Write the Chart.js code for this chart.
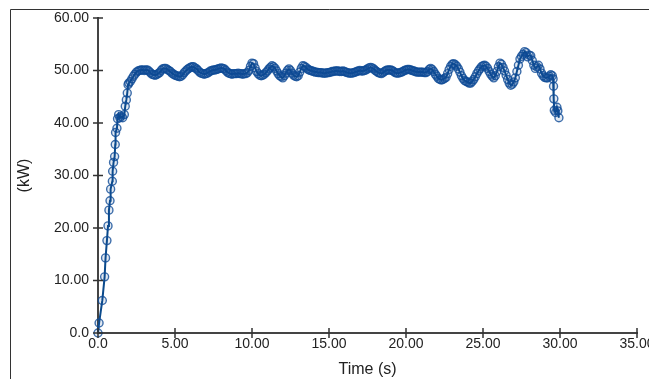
<!DOCTYPE html>
<html>
<head>
<meta charset="utf-8">
<script src="https://cdn.jsdelivr.net/npm/chart.js@4/dist/chart.umd.min.js"></script>
<style>
  html, body { margin: 0; padding: 0; background: #fff; }
  #wrap { width: 649px; height: 379px; }
</style>
</head>
<body>
<div id="wrap"><canvas id="powerChart" width="649" height="379"></canvas></div>
<script>
// time (s) of each sample
const timeS = [
  0, 0.07, 0.28, 0.43, 0.49, 0.58, 0.65, 0.71, 0.78, 0.82,
  0.93, 0.95, 1.01, 1.08, 1.12, 1.14, 1.23, 1.27, 1.34, 1.42,
  1.49, 1.6, 1.71, 1.77, 1.84, 1.9, 1.95,
  2.0, 2.1, 2.2, 2.3, 2.4, 2.5, 2.6, 2.7, 2.8, 2.9,
  3.0, 3.1, 3.2, 3.3, 3.4, 3.5, 3.6, 3.7, 3.8, 3.9,
  4.0, 4.1, 4.2, 4.3, 4.4, 4.5, 4.6, 4.7, 4.8, 4.9,
  5.0, 5.1, 5.2, 5.3, 5.4, 5.5, 5.6, 5.7, 5.8, 5.9,
  6.0, 6.1, 6.2, 6.3, 6.4, 6.5, 6.6, 6.7, 6.8, 6.9,
  7.0, 7.1, 7.2, 7.3, 7.4, 7.5, 7.6, 7.7, 7.8, 7.9,
  8.0, 8.1, 8.2, 8.3, 8.4, 8.5, 8.6, 8.7, 8.8, 8.9,
  9.0, 9.1, 9.2, 9.3, 9.4, 9.5, 9.6, 9.7, 9.8, 9.9,
  10.0, 10.1, 10.2, 10.3, 10.4, 10.5, 10.6, 10.7, 10.8, 10.9,
  11.0, 11.1, 11.2, 11.3, 11.4, 11.5, 11.6, 11.7, 11.8, 11.9,
  12.0, 12.1, 12.2, 12.3, 12.4, 12.5, 12.6, 12.7, 12.8, 12.9,
  13.0, 13.1, 13.2, 13.3, 13.4, 13.5, 13.6, 13.7, 13.8, 13.9,
  14.0, 14.1, 14.2, 14.3, 14.4, 14.5, 14.6, 14.7, 14.8, 14.9,
  15.0, 15.1, 15.2, 15.3, 15.4, 15.5, 15.6, 15.7, 15.8, 15.9,
  16.0, 16.1, 16.2, 16.3, 16.4, 16.5, 16.6, 16.7, 16.8, 16.9,
  17.0, 17.1, 17.2, 17.3, 17.4, 17.5, 17.6, 17.7, 17.8, 17.9,
  18.0, 18.1, 18.2, 18.3, 18.4, 18.5, 18.6, 18.7, 18.8, 18.9,
  19.0, 19.1, 19.2, 19.3, 19.4, 19.5, 19.6, 19.7, 19.8, 19.9,
  20.0, 20.1, 20.2, 20.3, 20.4, 20.5, 20.6, 20.7, 20.8, 20.9,
  21.0, 21.1, 21.2, 21.3, 21.4, 21.5, 21.6, 21.7, 21.8, 21.9,
  22.0, 22.1, 22.2, 22.3, 22.4, 22.5, 22.6, 22.7, 22.8, 22.9,
  23.0, 23.1, 23.2, 23.3, 23.4, 23.5, 23.6, 23.7, 23.8, 23.9,
  24.0, 24.1, 24.2, 24.3, 24.4, 24.5, 24.6, 24.7, 24.8, 24.9,
  25.0, 25.1, 25.2, 25.3, 25.4, 25.5, 25.6, 25.7, 25.8, 25.9,
  26.0, 26.1, 26.2, 26.3, 26.4, 26.5, 26.6, 26.7, 26.8, 26.9,
  27.0, 27.1, 27.2, 27.3, 27.4, 27.5, 27.6, 27.7, 27.8, 27.9,
  28.0, 28.1, 28.2, 28.3, 28.4, 28.5, 28.6, 28.7, 28.8, 28.9,
  29.0, 29.1, 29.2, 29.3, 29.4, 29.5,
  29.55, 29.58, 29.6, 29.63, 29.72, 29.8, 29.86, 29.93
];

// power (kW) at each sample
const powerKw = [
  0, 1.9, 6.2, 10.7, 14.3, 17.6, 20.4, 23.4, 25.2, 27.4,
  28.9, 30.8, 32.5, 33.6, 35.9, 38.2, 39.0, 40.8, 41.6, 41.0,
  41.3, 41.0, 41.6, 43.2, 44.4, 45.7, 47.3,
  47.6, 47.9, 48.4, 48.9, 49.3, 49.7, 49.9, 50.0, 50.1, 50.1,
  50.0, 50.1, 50.1, 49.9, 49.6, 49.3, 49.2, 49.1, 49.2, 49.4,
  49.6, 50.0, 50.3, 50.4, 50.4, 50.2, 50.0, 49.8, 49.5, 49.3,
  49.1, 49.0, 48.9, 48.8, 48.9, 49.2, 49.6, 49.9, 50.2, 50.4,
  50.6, 50.7, 50.7, 50.5, 50.3, 50.0, 49.7, 49.5, 49.4, 49.3,
  49.4, 49.5, 49.7, 49.9, 50.0, 50.1, 50.1, 50.2, 50.3, 50.4,
  50.5, 50.4, 50.3, 50.0, 49.7, 49.5, 49.4, 49.3, 49.4, 49.4,
  49.4, 49.5, 49.4, 49.4, 49.3, 49.4, 49.4, 49.6, 50.0, 50.8,
  51.4, 51.3, 50.5, 49.8, 49.4, 49.1, 49.0, 49.1, 49.3, 49.6,
  49.9, 50.3, 50.6, 50.9, 50.7, 50.4, 49.9, 49.4, 49.0, 48.8,
  48.6, 49.0, 49.5, 50.0, 50.3, 50.0, 49.5, 49.1, 48.9, 48.8,
  49.0, 49.7, 50.4, 50.9, 50.8, 50.6, 50.3, 50.1, 50.0, 49.9,
  49.8, 49.7, 49.7, 49.6, 49.6, 49.6, 49.5, 49.5, 49.5, 49.6,
  49.6, 49.7, 49.8, 49.8, 49.9, 49.9, 49.9, 49.8, 49.8, 49.9,
  49.8, 49.7, 49.6, 49.5, 49.5, 49.5, 49.6, 49.7, 49.8, 49.9,
  50.0, 49.9, 49.9, 50.0, 50.1, 50.3, 50.5, 50.6, 50.5, 50.3,
  50.0, 49.8, 49.6, 49.5, 49.4, 49.6, 49.8, 50.0, 50.1, 50.1,
  50.1, 50.0, 49.8, 49.6, 49.5, 49.5, 49.6, 49.7, 49.8, 50.0,
  50.1, 50.2, 50.2, 50.1, 50.0, 49.9, 49.8, 49.7, 49.7, 49.7,
  49.7, 49.7, 49.6, 49.6, 49.8, 50.2, 50.4, 50.2, 49.8, 49.3,
  48.9, 48.5, 48.3, 48.2, 48.3, 48.5, 48.7, 49.4, 50.2, 50.8,
  51.2, 51.3, 51.1, 50.8, 50.3, 49.7, 49.0, 48.5, 48.1, 47.9,
  47.8, 47.6, 47.6, 47.9, 48.3, 48.8, 49.4, 49.9, 50.3, 50.7,
  50.9, 51.0, 50.8, 50.4, 49.8, 49.3, 48.9, 48.6, 49.0, 49.8,
  50.7, 51.4, 51.2, 50.6, 49.9, 49.1, 48.3, 47.6, 47.2, 47.4,
  47.8, 48.6, 49.8, 51.0, 52.2, 52.7, 53.1, 53.6, 53.4, 52.6,
  52.9, 52.8, 51.9, 51.0, 50.4, 50.7, 51.0, 50.3, 49.5, 49.0,
  48.7, 48.6, 48.6, 48.9, 49.2, 49.0,
  48.4, 47.0, 44.6, 42.4, 42.0, 43.0, 42.3, 41.0
];

const xTicks = { min: 0, max: 35, step: 5 };
const yTicks = { min: 0, max: 60, step: 10 };

const fmt = (v) => (v === 0 ? "0.0" : v.toFixed(2));

// outer frame + ticks that cross the axis lines
const framePlugin = {
  id: "frame",
  afterDraw(chart) {
    const ctx = chart.ctx;
    const xs = chart.scales.x;
    const ys = chart.scales.y;
    ctx.save();
    ctx.strokeStyle = "#333";
    ctx.lineWidth = 1;
    ctx.beginPath();
    ctx.moveTo(10.5, 379);
    ctx.lineTo(10.5, 9.5);
    ctx.lineTo(649, 9.5);
    ctx.stroke();

    ctx.lineWidth = 1.5;
    ctx.beginPath();
    for (let v = xTicks.min; v <= xTicks.max; v += xTicks.step) {
      const px = xs.getPixelForValue(v);
      ctx.moveTo(px, xs.top - 5);
      ctx.lineTo(px, xs.top + 5);
    }
    for (let v = yTicks.min; v <= yTicks.max; v += yTicks.step) {
      const py = ys.getPixelForValue(v);
      ctx.moveTo(ys.right - 5, py);
      ctx.lineTo(ys.right + 5, py);
    }
    ctx.stroke();
    ctx.restore();
  },
};

const ctx = document.getElementById("powerChart");
new Chart(ctx, {
  type: "line",
  data: {
    datasets: [
      {
        label: "Power",
        data: timeS.map((t, i) => ({ x: t, y: powerKw[i] })),
        borderColor: "#0b4a8c",
        borderWidth: 2,
        pointRadius: 4,
        pointBorderWidth: 1.4,
        pointBorderColor: "rgba(15, 75, 150, 0.8)",
        pointBackgroundColor: "rgba(15, 75, 150, 0.12)",
        tension: 0,
        clip: false,
      },
    ],
  },
  options: {
    responsive: false,
    animation: false,
    layout: { padding: { left: 0, top: 18, right: 12, bottom: 0 } },
    plugins: { legend: { display: false }, tooltip: { enabled: false } },
    scales: {
      x: {
        type: "linear",
        min: xTicks.min,
        max: xTicks.max,
        grid: { display: false, drawTicks: false },
        border: { display: true, color: "#444", width: 2 },
        ticks: {
          stepSize: xTicks.step,
          padding: 3,
          color: "#222",
          font: { family: "Liberation Sans, Arial, sans-serif", size: 14 },
          maxRotation: 0,
          callback: (v) => fmt(v),
        },
        title: {
          display: true,
          text: "Time (s)",
          color: "#222",
          font: { family: "Liberation Sans, Arial, sans-serif", size: 16 },
          padding: { top: 0, bottom: 0 },
        },
        afterFit(scale) {
          scale.height = 46;
          scale.paddingLeft = 0;
          scale.paddingRight = 0;
        },
      },
      y: {
        min: yTicks.min,
        max: yTicks.max,
        grid: { display: false, drawTicks: false },
        border: { display: true, color: "#444", width: 2 },
        ticks: {
          stepSize: yTicks.step,
          padding: 9,
          color: "#222",
          font: { family: "Liberation Sans, Arial, sans-serif", size: 14 },
          callback: (v) => fmt(v),
        },
        title: {
          display: true,
          text: "(kW)",
          color: "#222",
          font: { family: "Liberation Sans, Arial, sans-serif", size: 16 },
          padding: { top: 15, bottom: 0 },
        },
        afterFit(scale) {
          scale.width = 98;
          scale.paddingTop = 0;
          scale.paddingBottom = 0;
        },
      },
    },
  },
  plugins: [framePlugin],
});
</script>
</body>
</html>
